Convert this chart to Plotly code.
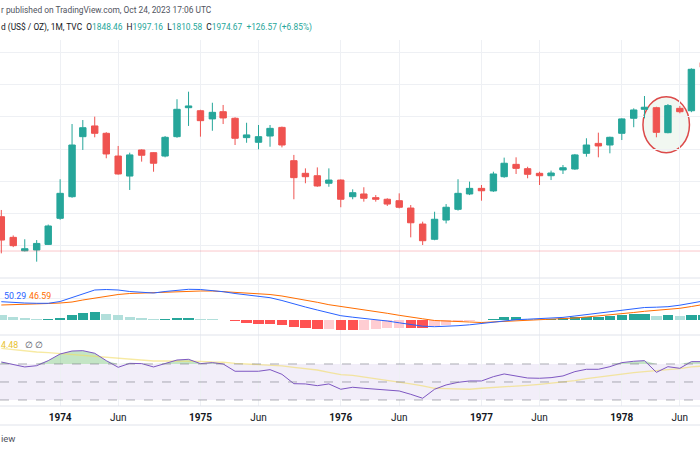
import plotly.graph_objects as go
import pandas as pd

# ---------------- data (monthly, Aug 1973 .. Aug 1978) ----------------
dates = pd.date_range("1973-08-01", periods=61, freq="MS").strftime("%Y-%m-%d").tolist()

opens = [117.7, 104.8, 96.4, 96.9, 100.4, 116.7, 130.2, 167.7, 174.4, 169.8,
         155.6, 143.1, 159.4, 157.7, 155.6, 167.7, 185.8, 183.9, 178.8, 183.3,
         179.2, 167.1, 164.2, 168.1, 173.5, 152.7, 144.8, 143.3, 138.6, 140.6,
         130.2, 131.9, 129.6, 128.6, 127.7, 123.1, 113.1, 103.6, 115.6, 122.3,
         131.9, 135.4, 133.8, 142.7, 150.4, 147.7, 144.8, 143.3, 146.9, 147.5,
         157.3, 163.5, 162.5, 169.8, 179.2, 184.8, 185.8, 170.2, 185.4, 183.9,
         214.0]
highs = [121.9, 106.0, 103.6, 103.1, 112.8, 141.1, 175.6, 178.1, 180.2, 170.5,
         161.9, 157.7, 159.8, 158.0, 168.1, 191.1, 195.8, 184.5, 188.9, 187.5,
         179.8, 176.4, 175.0, 175.0, 174.0, 156.3, 147.9, 148.5, 147.9, 141.0,
         134.8, 136.1, 131.2, 129.2, 132.3, 125.0, 114.6, 120.8, 125.6, 141.1,
         139.6, 137.5, 145.8, 154.6, 154.8, 148.9, 145.8, 146.5, 150.0, 156.9,
         166.7, 170.2, 167.7, 179.2, 185.4, 193.1, 186.4, 188.1, 186.9, 210.4,
         216.0]
lows = [94.8, 98.7, 96.0, 89.6, 100.0, 115.8, 129.5, 159.4, 167.3, 154.2,
        144.0, 134.4, 152.1, 145.8, 154.8, 167.0, 174.4, 167.7, 171.4, 175.6,
        162.5, 163.9, 159.8, 161.4, 161.0, 128.6, 138.6, 136.4, 136.4, 123.6,
        128.6, 127.1, 127.1, 124.4, 122.9, 104.8, 100.0, 103.0, 113.5, 121.5,
        131.2, 127.7, 133.2, 142.0, 144.4, 141.7, 137.5, 140.6, 144.4, 147.0,
        155.2, 154.8, 157.3, 165.6, 173.6, 179.2, 167.3, 169.8, 182.3, 183.0,
        209.0]
closes = [103.1, 99.6, 97.7, 101.0, 111.9, 132.3, 162.5, 173.3, 169.8, 156.9,
          144.4, 156.3, 156.1, 151.1, 167.3, 184.8, 186.9, 177.7, 182.9, 179.4,
          166.7, 168.8, 167.7, 172.9, 162.5, 142.1, 142.7, 136.9, 140.6, 128.6,
          132.7, 129.2, 128.6, 125.6, 123.6, 113.9, 102.7, 116.1, 123.6, 132.3,
          135.4, 133.9, 144.4, 151.1, 147.9, 144.2, 143.3, 145.0, 148.3, 156.3,
          162.5, 161.9, 167.3, 178.8, 184.4, 186.1, 170.4, 187.1, 183.3, 209.8,
          211.1]

macd_line = [18.3, 17.5, 17.0, 16.7, 16.7, 18.5, 22.5, 26.7, 30.0, 30.5,
             30.0, 28.5, 27.5, 27.0, 28.5, 29.5, 30.7, 30.5, 29.5, 28.3,
             26.5, 25.0, 24.0, 22.3, 19.5, 16.0, 13.0, 10.0, 7.3, 4.3,
             2.8, 1.7, 0.7, -1.0, -2.8, -4.5, -6.2, -6.7, -6.5, -5.7,
             -4.8, -3.5, -1.5, -0.3, 0.3, 0.8, 1.2, 1.6, 2.6, 4.0,
             5.3, 6.7, 8.0, 9.7, 11.2, 12.5, 12.8, 13.3, 14.8, 16.8,
             19.0]
signal_line = [15.0, 15.2, 15.5, 16.0, 16.5, 17.0, 18.0, 20.0, 22.0, 24.0,
               25.5, 26.5, 27.0, 27.5, 28.0, 28.0, 28.5, 29.0, 29.0, 28.3,
               27.7, 27.2, 26.7, 25.5, 24.0, 22.0, 20.0, 17.7, 15.3, 13.7,
               12.0, 10.3, 8.7, 6.7, 4.7, 2.7, 1.2, -0.5, -1.2, -1.6,
               -2.0, -2.5, -2.0, -1.2, -0.8, -0.5, 0.0, 0.6, 1.3, 2.0,
               3.0, 4.0, 5.0, 6.2, 7.5, 8.7, 9.7, 10.5, 11.7, 13.5,
               15.5]
histogram = [5.0, 3.0, 1.7, 0.7, 1.3, 2.3, 4.7, 7.0, 7.7, 6.3,
             4.7, 3.3, 2.3, 1.0, 1.3, 1.7, 2.0, 1.0, 0.6, 0.3,
             -1.3, -2.7, -3.5, -3.7, -5.0, -7.3, -8.3, -9.3, -9.0, -9.7,
             -10.3, -9.5, -9.0, -8.3, -7.5, -7.8, -8.0, -6.0, -5.0, -2.0,
             -1.0, -0.3, 1.0, 2.7, 3.2, 0.8, 0.6, 0.8, 2.3, 3.0,
             3.3, 3.5, 4.3, 5.0, 5.7, 5.8, 4.3, 4.7, 4.0, 5.0,
             5.3]

rsi = [72.2, 69.3, 66.7, 68.1, 73.7, 81.1, 84.4, 84.8, 81.9, 73.7,
       66.3, 70.7, 70.4, 66.7, 70.7, 74.4, 75.2, 70.4, 71.5, 70.0,
       61.9, 61.9, 61.9, 63.7, 58.5, 48.1, 47.8, 45.9, 47.8, 41.9,
       44.1, 43.0, 42.2, 41.1, 40.0, 36.3, 31.9, 41.9, 46.7, 49.6,
       51.1, 51.1, 55.9, 58.9, 56.7, 54.4, 54.1, 54.8, 56.7, 61.5,
       64.1, 64.1, 67.0, 71.5, 73.0, 73.7, 60.7, 67.0, 65.2, 72.6,
       72.6]
rsi_ma = [87.4, 85.9, 84.8, 83.3, 82.6, 81.5, 80.7, 79.6, 78.5, 77.4,
          76.3, 75.2, 74.1, 73.3, 73.3, 73.3, 73.3, 73.0, 72.2, 71.9,
          70.7, 70.0, 69.3, 68.5, 67.8, 66.3, 64.8, 63.3, 60.7, 58.1,
          57.4, 55.6, 54.1, 52.2, 50.4, 47.8, 45.6, 43.0, 42.6, 42.2,
          41.9, 43.0, 43.7, 44.8, 45.6, 46.3, 47.4, 48.5, 50.0, 51.5,
          53.7, 55.6, 57.4, 58.9, 60.4, 61.5, 62.6, 63.3, 64.8, 66.7,
          67.8]

tick_dates = ["1974-01-01", "1974-06-01", "1975-01-01", "1975-06-01", "1976-01-01",
              "1976-06-01", "1977-01-01", "1977-06-01", "1978-01-01", "1978-06-01"]
tick_text = ["<b>1974</b>", "Jun", "<b>1975</b>", "Jun", "<b>1976</b>",
             "Jun", "<b>1977</b>", "Jun", "<b>1978</b>", "Jun"]

# ---------------- styling ----------------
GREEN = "#26a69a"
RED = "#ef5350"
GRID = "#eef0f4"
SEP = "#e0e3eb"
FONT = "Roboto"
X_RANGE = ["1973-07-28 14:00", "1978-07-23 10:00"]

def py(px):
    return 1 - px / 450.0

hist_colors = []
prev = None
for v in histogram:
    rising = False if prev is None else v > prev
    if v >= 0:
        hist_colors.append("#26a69a" if rising else "#b2dfdb")
    else:
        hist_colors.append("#ffcdd2" if rising else "#ff5252")
    prev = v

fig = go.Figure()

fig.add_trace(go.Candlestick(
    x=dates, open=opens, high=highs, low=lows, close=closes,
    increasing=dict(line=dict(color=GREEN, width=1), fillcolor=GREEN),
    decreasing=dict(line=dict(color=RED, width=1), fillcolor=RED),
    whiskerwidth=0, showlegend=False, hoverinfo="skip", xaxis="x", yaxis="y"))

fig.add_trace(go.Bar(
    x=dates, y=histogram, marker=dict(color=hist_colors, line=dict(width=0)),
    width=27 * 86400000, showlegend=False, hoverinfo="skip", xaxis="x2", yaxis="y2"))
fig.add_trace(go.Scatter(
    x=dates, y=signal_line, mode="lines", line=dict(color="#ff6d00", width=1),
    showlegend=False, hoverinfo="skip", xaxis="x2", yaxis="y2"))
fig.add_trace(go.Scatter(
    x=dates, y=macd_line, mode="lines", line=dict(color="#2962ff", width=1),
    showlegend=False, hoverinfo="skip", xaxis="x2", yaxis="y2"))

# RSI overbought fill
fig.add_trace(go.Scatter(
    x=dates, y=[70] * len(dates), mode="lines", line=dict(width=0, color="rgba(0,0,0,0)"),
    showlegend=False, hoverinfo="skip", xaxis="x3", yaxis="y3"))
fig.add_trace(go.Scatter(
    x=dates, y=[max(v, 70) for v in rsi], mode="lines", line=dict(width=0, color="rgba(0,0,0,0)"),
    fill="tonexty", fillcolor="rgba(76,175,80,0.33)",
    showlegend=False, hoverinfo="skip", xaxis="x3", yaxis="y3"))
fig.add_trace(go.Scatter(
    x=dates, y=rsi_ma, mode="lines", line=dict(color="rgba(242,220,100,0.6)", width=1.3),
    showlegend=False, hoverinfo="skip", xaxis="x3", yaxis="y3"))
fig.add_trace(go.Scatter(
    x=dates, y=rsi, mode="lines", line=dict(color="#7e57c2", width=1),
    showlegend=False, hoverinfo="skip", xaxis="x3", yaxis="y3"))

xcommon = dict(type="date", range=X_RANGE, showgrid=True, gridcolor=GRID, gridwidth=1,
               tickvals=tick_dates, ticktext=tick_text, zeroline=False, showline=False,
               ticks="", fixedrange=True)

fig.update_layout(
    width=700, height=450,
    margin=dict(l=0, r=0, t=0, b=0),
    paper_bgcolor="white", plot_bgcolor="white",
    font=dict(family=FONT, color="#131722"),
    bargap=0, boxgap=0.15,
    xaxis=dict(xcommon, anchor="y", showticklabels=False, rangeslider=dict(visible=False)),
    xaxis2=dict(xcommon, anchor="y2", matches="x", showticklabels=False),
    xaxis3=dict(xcommon, anchor="y3", matches="x", showticklabels=True,
                ticklabelstandoff=4,
                tickfont=dict(size=10, color="#131722", family=FONT)),
    yaxis=dict(domain=[py(278), py(40)], range=[79.4, 228.1], showticklabels=False,
               showgrid=True, gridcolor=GRID, tick0=0, dtick=20, zeroline=False, fixedrange=True),
    yaxis2=dict(domain=[py(335), py(278)], range=[-15, 42], showticklabels=False,
                showgrid=True, gridcolor=GRID, tickvals=[22, 36], zeroline=False, fixedrange=True),
    yaxis3=dict(domain=[py(406), py(335)], range=[23.3, 102.2], showticklabels=False,
                showgrid=False, zeroline=False, fixedrange=True),
)

shapes = []
for ypx in (278, 335, 406, 425):
    shapes.append(dict(type="line", xref="paper", yref="paper", x0=0, x1=1,
                       y0=py(ypx), y1=py(ypx), line=dict(color=SEP, width=1)))
shapes.append(dict(type="line", xref="paper", yref="y", x0=0, x1=1, y0=96.25, y1=96.25,
                   line=dict(color="rgba(242,54,69,0.28)", width=1)))
shapes.append(dict(type="rect", xref="paper", yref="y3", x0=0, x1=1, y0=30, y1=70,
                   fillcolor="rgba(126,87,194,0.1)", line=dict(width=0), layer="below"))
for lvl in (70, 50, 30):
    shapes.append(dict(type="line", xref="paper", yref="y3", x0=0, x1=1, y0=lvl, y1=lvl,
                       line=dict(color="rgba(120,123,134,0.6)", width=1, dash="dash")))
shapes.append(dict(type="circle", xref="x", yref="y",
                   x0="1978-02-25", x1="1978-06-26", y0=157.7, y1=192.7,
                   fillcolor="rgba(215,232,215,0.35)", line=dict(color="#dc4a4a", width=1.5),
                   layer="below"))
fig.update_layout(shapes=shapes)

anns = [
    dict(x=0, y=py(10), text="r published on TradingView.com, Oct 24, 2023 17:06 UTC",
         font=dict(size=8.4, color="#50535e")),
    dict(x=0, y=py(28),
         text=("d (US$ / OZ), 1M, TVC&nbsp;&nbsp;O<span style='color:#26a69a'>1848.46</span>"
               "&nbsp;&nbsp;H<span style='color:#26a69a'>1997.16</span>"
               "&nbsp;&nbsp;L<span style='color:#26a69a'>1810.58</span>"
               "&nbsp;&nbsp;C<span style='color:#26a69a'>1974.67</span>"
               "&nbsp;&nbsp;<span style='color:#26a69a'>+126.57 (+6.85%)</span>"),
         font=dict(size=8.4, color="#131722")),
    dict(x=3 / 700, y=py(296), text="50.29", font=dict(size=8.8, color="#2962ff")),
    dict(x=28 / 700, y=py(296), text="46.59", font=dict(size=8.8, color="#ff6d00")),
    dict(x=0, y=py(345), text="4.48", font=dict(size=8.8, color="#e8c22a")),
    dict(x=24 / 700, y=py(345), text="∅", font=dict(size=8.8, color="#50535e")),
    dict(x=34 / 700, y=py(345), text="∅", font=dict(size=8.8, color="#50535e")),
    dict(x=0, y=py(438), text="iew", font=dict(size=9.5, color="#50535e")),
]
for a in anns:
    a.update(xref="paper", yref="paper", xanchor="left", yanchor="middle",
             showarrow=False, borderpad=0)
fig.update_layout(annotations=anns)

fig.write_html("out.html", config={"displayModeBar": False, "staticPlot": True},
               post_script="document.body.style.margin='0';document.body.style.overflow='hidden';")
